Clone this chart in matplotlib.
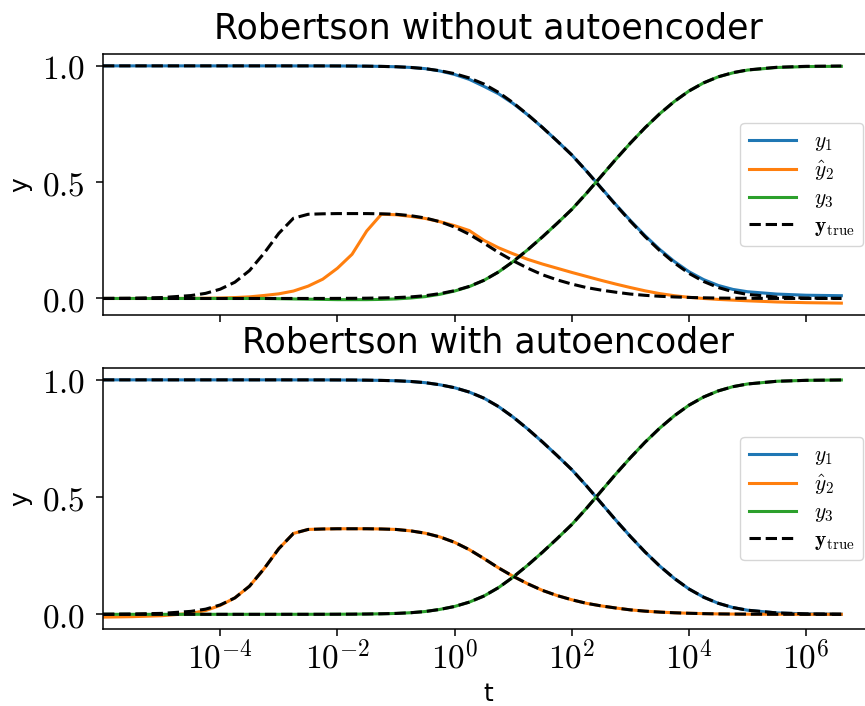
import numpy as np
import matplotlib
matplotlib.use("Agg")
import matplotlib.pyplot as plt
from matplotlib.ticker import FuncFormatter, NullLocator

plt.rcParams['mathtext.fontset'] = 'cm'

# log10(t) sample positions
log_t = [-6, -5.5, -5, -4.5, -4.25, -4, -3.75, -3.5, -3.25, -3, -2.75, -2.5, -2.25,
         -2, -1.75, -1.5, -1.25, -1, -0.75, -0.5, -0.25, 0, 0.25, 0.5, 0.75, 1,
         1.25, 1.5, 1.75, 2, 2.25, 2.5, 2.75, 3, 3.25, 3.5, 3.75, 4, 4.25, 4.5, 4.75,
         5, 5.5, 6, 6.6]

# reference solution (black dashed)
y1_true = [1.0, 1.0, 1.0, 1.0, 1.0, 1.0, 1.0, 1.0, 1.0, 1.0, 0.9999, 0.9999, 0.9998,
           0.9996, 0.9993, 0.9987, 0.9977, 0.9962, 0.9932, 0.988, 0.979, 0.9665, 0.948,
           0.922, 0.886, 0.841, 0.790, 0.735, 0.677, 0.617, 0.548, 0.475, 0.402, 0.332,
           0.266, 0.206, 0.153, 0.108, 0.073, 0.047, 0.029, 0.0175, 0.006, 0.0019, 0.0005]
y2_true = [0.0004, 0.0013, 0.004, 0.0126, 0.022, 0.040, 0.070, 0.120, 0.195, 0.280,
           0.345, 0.362, 0.364, 0.365, 0.365, 0.365, 0.364, 0.362, 0.356, 0.346, 0.330,
           0.307, 0.276, 0.238, 0.198, 0.162, 0.130, 0.102, 0.080, 0.062, 0.047, 0.036,
           0.027, 0.019, 0.0135, 0.0095, 0.0066, 0.0045, 0.0029, 0.0018, 0.0011, 0.0007,
           0.00023, 0.00007, 0.00002]
y3_true = [0.0, 0.0, 0.0, 0.0, 0.0, 0.0, 0.0, 0.0, 0.0, 0.0, 0.0001, 0.0001, 0.0002,
           0.0004, 0.0007, 0.0013, 0.0023, 0.0038, 0.0068, 0.012, 0.021, 0.0335, 0.052,
           0.078, 0.114, 0.159, 0.210, 0.265, 0.323, 0.383, 0.452, 0.525, 0.598, 0.668,
           0.734, 0.794, 0.847, 0.892, 0.927, 0.953, 0.971, 0.9825, 0.994, 0.998, 0.9995]

# prediction without autoencoder
y1_pred_a = [1.0, 1.0, 1.0, 1.0, 1.0, 1.0, 1.0, 1.0, 1.0, 1.0, 0.9999, 0.9999, 0.9998,
             0.9996, 0.9993, 0.9987, 0.9977, 0.9962, 0.9932, 0.988, 0.978, 0.963, 0.942,
             0.912, 0.880, 0.838, 0.789, 0.735, 0.677, 0.617, 0.548, 0.476, 0.404, 0.335,
             0.270, 0.211, 0.159, 0.115, 0.081, 0.056, 0.039, 0.029, 0.019, 0.014, 0.012]
y2_pred_a = [0.0, 0.0, 0.0, 0.0005, 0.001, 0.002, 0.004, 0.007, 0.013, 0.020, 0.032,
             0.053, 0.083, 0.130, 0.190, 0.290, 0.362, 0.360, 0.353, 0.344, 0.330, 0.313,
             0.292, 0.250, 0.218, 0.192, 0.168, 0.148, 0.130, 0.112, 0.095, 0.078, 0.062,
             0.047, 0.033, 0.021, 0.012, 0.005, 0.0, -0.004, -0.007, -0.010, -0.015,
             -0.018, -0.020]
y3_pred_a = [0.0, 0.0, 0.0, 0.0, 0.0, 0.0, 0.0, 0.0, 0.0, -0.001, -0.002, -0.003,
             -0.004, -0.005, -0.005, -0.005, -0.004, -0.002, 0.002, 0.008, 0.018, 0.032,
             0.051, 0.078, 0.114, 0.159, 0.210, 0.265, 0.323, 0.383, 0.452, 0.525, 0.598,
             0.668, 0.734, 0.794, 0.847, 0.892, 0.927, 0.953, 0.970, 0.982, 0.993, 0.997,
             0.998]

# prediction with autoencoder
y1_pred_b = y1_true
y2_pred_b = [-0.012, -0.010, -0.006, 0.004, 0.016, 0.038, 0.070, 0.120, 0.195, 0.280,
             0.345, 0.362, 0.364, 0.365, 0.365, 0.365, 0.364, 0.362, 0.356, 0.346, 0.330,
             0.307, 0.276, 0.238, 0.198, 0.162, 0.130, 0.102, 0.080, 0.062, 0.047, 0.036,
             0.027, 0.019, 0.0135, 0.0095, 0.0066, 0.0045, 0.0029, 0.0018, 0.0011, 0.0007,
             0.00023, 0.00007, 0.00002]
y3_pred_b = y3_true

titles = ["Robertson without autoencoder", "Robertson with autoencoder"]
labels = [r"$y_1$", r"$\hat{y}_2$", r"$y_3$", r"$\mathbf{y}_{\rm true}$"]
colors = ["#1f77b4", "#ff7f0e", "#2ca02c"]
xtick_pos = [1e-4, 1e-2, 1e0, 1e2, 1e4, 1e6]
ytick_pos = [0.0, 0.5, 1.0]

t = np.power(10.0, np.array(log_t))

W, H = 865, 706
fig = plt.figure(figsize=(W / 100, H / 100), dpi=100)
left = 103 / W
ppd = 58.6
xmin_log, xmax_log = -6.0, 7.15
width = (xmax_log - xmin_log) * ppd / W
ax1 = fig.add_axes([left, 1 - 315 / H, width, 261 / H])
ax2 = fig.add_axes([left, 1 - 629 / H, width, 261 / H], sharex=ax1)

preds = [(y1_pred_a, y2_pred_a, y3_pred_a), (y1_pred_b, y2_pred_b, y3_pred_b)]
trues = (y1_true, y2_true, y3_true)

yfmt = FuncFormatter(lambda v, p: r"$%.1f$" % v)
xfmt = FuncFormatter(lambda v, p: r"$10^{%d}$" % int(round(np.log10(v))))

for ax, title, pr in zip([ax1, ax2], titles, preds):
    for k in range(3):
        ax.plot(t, pr[k], color=colors[k], lw=2.2, label=labels[k])
    for k in range(3):
        ax.plot(t, trues[k], color="black", lw=2.2, ls="--",
                label=labels[3] if k == 0 else None)
    ax.set_xscale("log")
    ax.set_title(title, fontsize=25, pad=11)
    ax.set_ylabel("y", fontsize=18, labelpad=7)
    ax.set_yticks(ytick_pos)
    ax.yaxis.set_major_formatter(yfmt)
    ax.tick_params(axis="both", which="major", labelsize=24, length=5, width=1.1)
    ax.tick_params(axis="y", which="major", pad=8)
    for s in ax.spines.values():
        s.set_linewidth(1.1)
    ax.legend(loc="center right", fontsize=15.5, handlelength=2.2, labelspacing=0.25)

ax1.set_xlim(10 ** xmin_log, 10 ** xmax_log)
ax1.set_xticks(xtick_pos)
ax1.xaxis.set_minor_locator(NullLocator())
ax1.xaxis.set_major_formatter(xfmt)
plt.setp(ax1.get_xticklabels(), visible=False)
ax2.set_xlabel("t", fontsize=18)

fig.savefig("out.png", dpi=100)
